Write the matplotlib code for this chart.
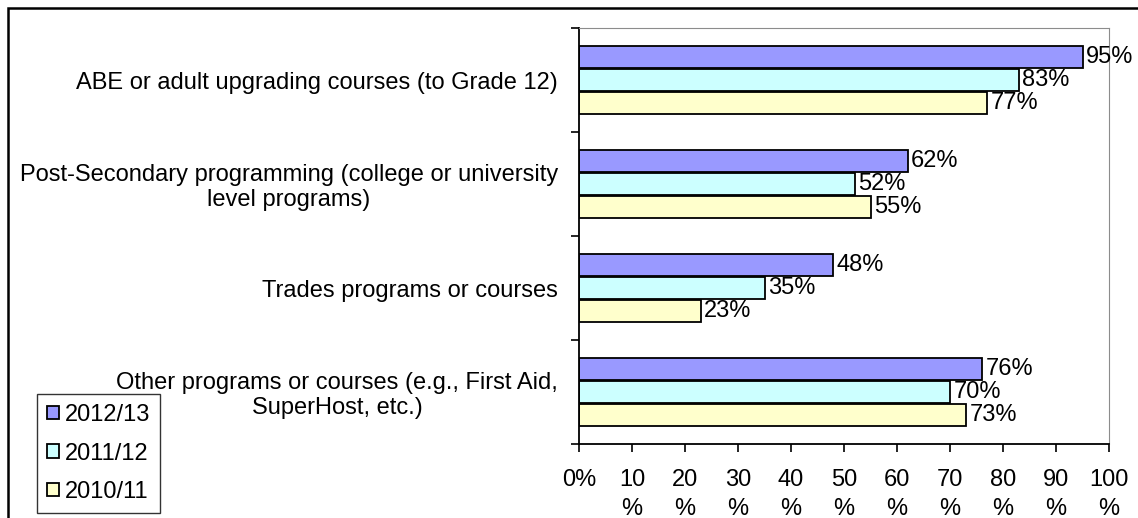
import numpy as np
import matplotlib
matplotlib.use("Agg")
import matplotlib.pyplot as plt
from matplotlib.patches import Rectangle

plt.rcParams['font.family'] = ['Liberation Sans', 'DejaVu Sans']

categories = [
    "ABE or adult upgrading courses (to Grade 12)",
    "Post-Secondary programming (college or university\nlevel programs)",
    "Trades programs or courses",
    "Other programs or courses (e.g., First Aid,\nSuperHost, etc.)",
]
series_names = ["2012/13", "2011/12", "2010/11"]
vals_2012 = [95, 62, 48, 76]
vals_2011 = [83, 52, 35, 70]
vals_2010 = [77, 55, 23, 73]
colors = ["#9999FF", "#CCFFFF", "#FFFFCC"]
xticks = [0, 10, 20, 30, 40, 50, 60, 70, 80, 90, 100]
xticklabels = ["0%"] + [f"{t}\n%" for t in xticks[1:]]

fs = 17
fig = plt.figure(figsize=(11.38, 5.18), dpi=100)
ax = fig.add_axes([579 / 1138, 1 - 444 / 518, 530 / 1138, 416 / 518])

y = np.arange(len(categories))
h = 0.215
step = 0.222
for k, (vals, name, c) in enumerate(zip([vals_2012, vals_2011, vals_2010], series_names, colors)):
    pos = y + (k - 1) * step
    ax.barh(pos, vals, height=h, color=c, edgecolor="black", linewidth=1.3, label=name)
    for p, v in zip(pos, vals):
        ax.annotate(f"{v}%", (v, p), xytext=(2.5, 0), textcoords="offset points",
                    va="center", ha="left", fontsize=fs)

ax.set_xlim(0, 100)
ax.set_ylim(len(categories) - 0.5, -0.5)
ax.set_xticks(xticks)
ax.set_xticklabels(xticklabels, fontsize=fs, linespacing=1.45)
ax.tick_params(axis="x", direction="out", length=5.8, width=1.2, pad=12)

ax.set_yticks(np.arange(len(categories) + 1) - 0.5)
ax.set_yticklabels([])
ax.tick_params(axis="y", which="major", direction="out", length=5.8, width=1.2)
ax.set_yticks(y, minor=True)
ax.set_yticklabels(categories, minor=True, fontsize=fs, multialignment="center", linespacing=1.15)
ax.tick_params(axis="y", which="minor", length=0, pad=15)

ax.spines["left"].set_linewidth(1.3)
ax.spines["bottom"].set_linewidth(1.3)
ax.spines["top"].set_color("#8c8c8c")
ax.spines["right"].set_color("#8c8c8c")

handles, labels = ax.get_legend_handles_labels()
leg = fig.legend(handles, labels, loc="lower left", bbox_to_anchor=(37 / 1138, 5 / 518),
                 fontsize=fs, frameon=True, fancybox=False, edgecolor="black",
                 handlelength=0.5, handleheight=0.5, handletextpad=0.25,
                 labelspacing=0.7, borderpad=0.42, borderaxespad=0)
leg.get_frame().set_linewidth(1.0)

fig.patches.append(Rectangle((8 / 1138, -0.2), 1.2, 1.2 - 8 / 518,
                             transform=fig.transFigure, fill=False,
                             edgecolor="black", linewidth=1.8, zorder=0))

fig.savefig("out.png", dpi=100)
